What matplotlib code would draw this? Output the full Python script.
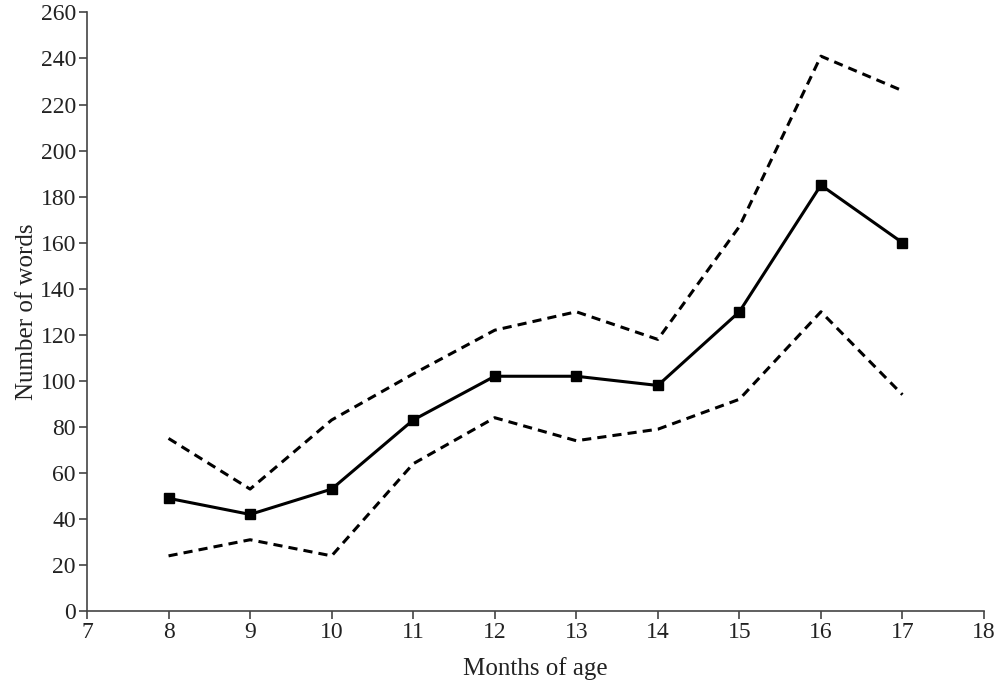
import matplotlib.pyplot as plt

# months of age and vocabulary size (mean with upper / lower bounds)
months = [8, 9, 10, 11, 12, 13, 14, 15, 16, 17]
mean_words = [49, 42, 53, 83, 102, 102, 98, 130, 185, 160]
upper_words = [75, 53, 83, 103, 122, 130, 118, 167, 241, 226]
lower_words = [24, 31, 24, 64, 84, 74, 79, 92, 130, 94]

x_ticks = list(range(7, 19))
y_ticks = list(range(0, 261, 20))

plt.rcParams['font.family'] = ['Liberation Serif', 'DejaVu Serif']

fig = plt.figure(figsize=(10, 6.89), dpi=100)
ax = fig.add_axes([0.087, 0.113, 0.897, 0.869])

# dashed bounds
ax.plot(months, upper_words, color='black', linewidth=2.2, linestyle=(0, (3, 2)))
ax.plot(months, lower_words, color='black', linewidth=2.2, linestyle=(0, (3, 2)))

# mean line with square markers
ax.plot(months, mean_words, color='black', linewidth=2.2, marker='s', markersize=7.5)

ax.set_xlim(7, 18)
ax.set_ylim(0, 260)
ax.set_xticks(x_ticks)
ax.set_yticks(y_ticks)

ax.spines['top'].set_visible(False)
ax.spines['right'].set_visible(False)
ax.spines['left'].set_color('#444444')
ax.spines['bottom'].set_color('#444444')
ax.spines['left'].set_linewidth(1.2)
ax.spines['bottom'].set_linewidth(1.2)
ax.tick_params(direction='out', length=6, width=1.2, color='#444444',
               labelsize=17, labelcolor='#222222', pad=2)

ax.set_xlabel('Months of age', fontsize=18, labelpad=10, color='#222222')
ax.set_ylabel('Number of words', fontsize=18, labelpad=2, color='#222222')

fig.savefig('out.png', dpi=100)
